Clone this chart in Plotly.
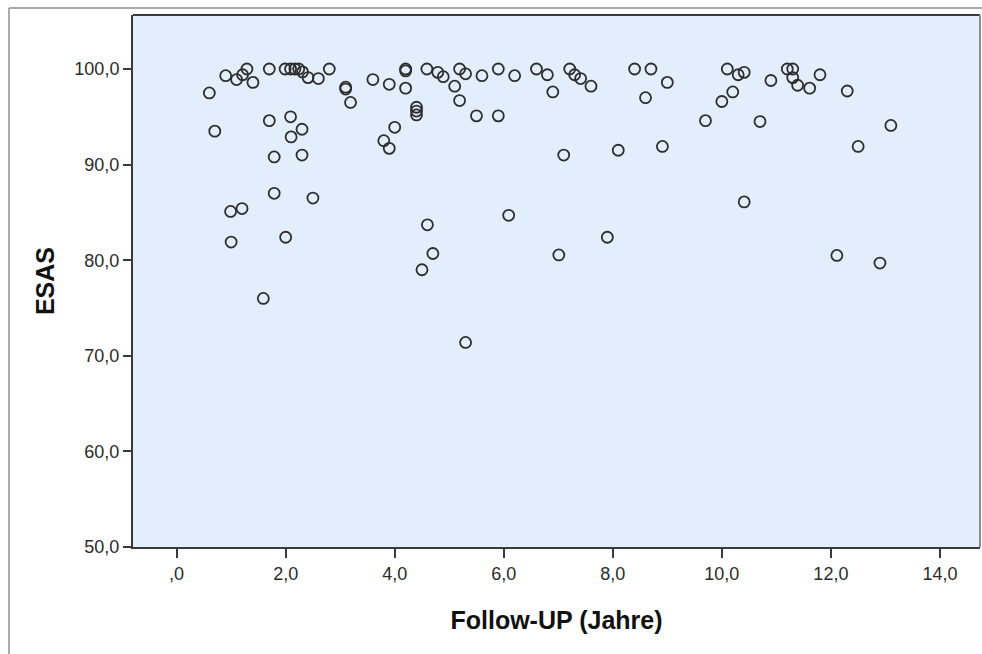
import plotly.graph_objects as go

# Follow-up (years) and ESAS values
follow_up = [
    0.60, 0.90, 1.10, 1.21, 1.29, 1.40, 1.70, 1.99, 2.09, 2.17, 2.24, 2.31, 2.41, 2.60, 2.80,
    3.10, 3.10, 3.19, 3.60, 3.90, 4.20, 4.20, 4.20, 4.59, 4.40, 4.40, 4.40,
    0.70, 1.70, 2.09, 2.30, 2.10, 1.79, 2.30, 4.00, 3.80, 3.90,
    4.79, 4.89, 5.19, 5.30, 5.10, 5.19, 5.60, 5.90, 6.20, 6.60, 6.80, 6.90, 7.21, 7.30, 7.41,
    7.60, 5.50, 5.90, 8.40, 8.70, 9.00, 8.60, 7.10, 8.10, 8.91,
    9.70, 10.00, 10.20, 10.10, 10.30, 10.41, 10.70, 10.90, 11.20, 11.30, 11.30, 11.39, 11.61,
    11.80, 12.30, 13.10, 12.50,
    0.99, 1.20, 1.79, 2.50, 1.00, 2.00, 1.59, 4.60, 4.70, 4.50, 6.09, 5.30, 7.01, 7.90,
    10.41, 12.11, 12.90,
]
esas = [
    97.5, 99.3, 98.9, 99.4, 100.0, 98.6, 100.0, 100.0, 100.0, 100.0, 100.0, 99.7, 99.1, 99.0, 100.0,
    98.1, 97.9, 96.5, 98.9, 98.4, 100.0, 99.8, 98.0, 100.0, 96.0, 95.6, 95.2,
    93.5, 94.6, 95.0, 93.7, 92.9, 90.8, 91.0, 93.9, 92.5, 91.7,
    99.65, 99.2, 100.0, 99.5, 98.2, 96.7, 99.3, 100.0, 99.3, 100.0, 99.4, 97.6, 100.0, 99.4, 99.0,
    98.2, 95.1, 95.1, 100.0, 100.0, 98.6, 97.0, 91.0, 91.5, 91.9,
    94.6, 96.6, 97.6, 100.0, 99.4, 99.65, 94.5, 98.8, 100.0, 100.0, 99.1, 98.3, 98.0,
    99.4, 97.7, 94.1, 91.9,
    85.1, 85.4, 87.0, 86.5, 81.9, 82.4, 76.0, 83.7, 80.7, 79.0, 84.7, 71.4, 80.55, 82.4,
    86.1, 80.5, 79.7,
]

x_tickvals = [0, 2, 4, 6, 8, 10, 12, 14]
x_ticktext = [",0", "2,0", "4,0", "6,0", "8,0", "10,0", "12,0", "14,0"]
y_tickvals = [50, 60, 70, 80, 90, 100]
y_ticktext = ["50,0", "60,0", "70,0", "80,0", "90,0", "100,0"]

x_title = "Follow-UP (Jahre)"
y_title = "ESAS"

W, H = 982, 654
L, R, T, B = 133, 2, 15, 107
pw, ph = W - L - R, H - T - B

def px(xpix):
    return (xpix - L) / pw

def py(ypix):
    return (H - B - ypix) / ph

fig = go.Figure()
fig.add_trace(go.Scatter(
    x=follow_up, y=esas, mode="markers",
    marker=dict(symbol="circle-open", size=11, color="#2e2e2e",
                line=dict(width=1.8, color="#2e2e2e")),
    hoverinfo="x+y", showlegend=False,
))

axis_font = dict(family="Liberation Sans, Arial, sans-serif", size=18, color="#2b2b2b")
title_font = dict(family="Liberation Sans, Arial, sans-serif", size=25, color="#111111")

fig.update_layout(
    width=W, height=H,
    margin=dict(l=L, r=R, t=T, b=B, pad=0),
    paper_bgcolor="white",
    plot_bgcolor="#E2EEFB",
    xaxis=dict(
        range=[-0.80, 14.735], tickvals=x_tickvals, ticktext=x_ticktext,
        showgrid=False, zeroline=False, showline=True, linecolor="#3a3a3a", linewidth=2,
        ticks="outside", ticklen=9, tickwidth=2, tickcolor="#3a3a3a",
        tickfont=axis_font,
        title=dict(text="<b>" + x_title + "</b>", font=title_font, standoff=29),
    ),
    yaxis=dict(
        range=[50, 105.65], tickvals=y_tickvals, ticktext=y_ticktext,
        showgrid=False, zeroline=False, showline=True, linecolor="#3a3a3a", linewidth=2,
        ticks="outside", ticklen=8, tickwidth=2, tickcolor="#3a3a3a",
        tickfont=axis_font,
        title=dict(text="<b>" + y_title + "</b>", font=title_font, standoff=13),
    ),
    shapes=[
        # plot frame: top (dark) and right (gray)
        dict(type="line", xref="paper", yref="paper", x0=0, x1=1, y0=1, y1=1,
             line=dict(color="#3a3a3a", width=2)),
        dict(type="line", xref="paper", yref="paper", x0=1, x1=1, y0=0, y1=1,
             line=dict(color="#8c8c8c", width=2)),
        # outer gray chart border (top and left)
        dict(type="line", xref="paper", yref="paper", x0=px(9), x1=px(984), y0=py(8), y1=py(8),
             line=dict(color="#ababab", width=2)),
        dict(type="line", xref="paper", yref="paper", x0=px(9), x1=px(9), y0=py(8), y1=py(660),
             line=dict(color="#ababab", width=2)),
    ],
)

fig.write_html(
    "out.html",
    config={"displayModeBar": False},
    post_script="document.body.style.margin='0';document.body.style.overflow='hidden';",
)
